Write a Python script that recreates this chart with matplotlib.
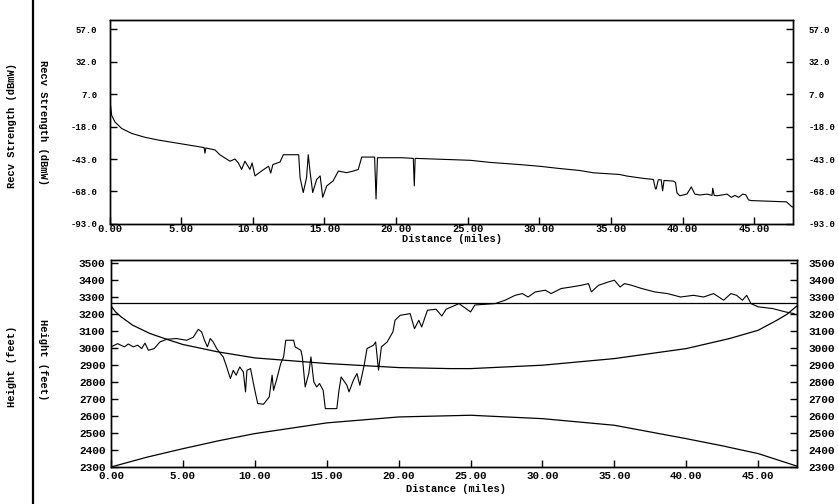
import matplotlib
matplotlib.use("Agg")
import matplotlib.pyplot as plt
from matplotlib.lines import Line2D

# ── DATA ────────────────────────────────────────────────────────────

# received signal strength along the path
rx_dist = [0.0, 0.15, 0.38, 0.85, 1.55, 2.48, 3.41, 4.34, 5.5, 6.6,
           6.66, 6.72, 7.36, 7.7, 8.05, 8.41, 8.76, 8.99, 9.22, 9.45,
           9.8, 9.95, 10.15, 10.6, 11.1, 11.25, 11.4, 11.9, 12.13, 13.2,
           13.3, 13.52, 13.75, 13.87, 13.99, 14.18, 14.46, 14.7, 14.88, 15.16,
           15.6, 15.97, 16.55, 17.0, 17.36, 17.6, 18.5, 18.6, 18.7, 20.4,
           21.2, 21.27, 21.33, 23.4, 25.2, 26.55, 28.65, 30.04, 31.4, 32.8,
           33.76, 35.6, 36.1, 37.25, 37.95, 38.1, 38.15, 38.3, 38.5, 38.6,
           38.7, 39.35, 39.5, 39.6, 39.8, 40.3, 40.6, 40.85, 41.2, 41.7,
           42.05, 42.1, 42.2, 42.4, 43.1, 43.4, 43.65, 43.9, 44.2, 44.4,
           44.6, 44.8, 46.1, 47.25, 47.6, 47.7]
rx_dbm = [5.0, -9.4, -14.5, -19.5, -23.3, -26.3, -28.4, -30.1, -32.2, -34.2,
          -38.5, -34.5, -36.0, -39.7, -42.2, -44.7, -43.0, -46.0, -51.0, -44.7,
          -51.0, -46.0, -56.0, -52.3, -48.5, -53.8, -47.3, -45.3, -39.7, -39.7,
          -57.4, -68.8, -57.4, -39.7, -52.3, -68.8, -58.7, -56.0, -72.5, -63.7,
          -59.9, -52.3, -53.5, -52.3, -51.0, -41.5, -41.5, -73.8, -42.0, -42.0,
          -42.5, -63.7, -42.5, -43.3, -44.0, -45.6, -47.3, -48.6, -50.3, -51.8,
          -53.6, -54.9, -56.1, -57.9, -58.7, -66.0, -66.0, -59.0, -59.0, -67.5,
          -59.5, -60.0, -61.0, -69.0, -71.3, -70.0, -64.5, -70.0, -70.7, -70.0,
          -71.0, -65.5, -71.0, -71.3, -70.0, -72.5, -71.0, -72.5, -70.0, -70.5,
          -74.5, -75.0, -75.5, -76.0, -79.6, -80.0]

# terrain height profile
terrain_dist = [0.0, 0.46, 0.93, 1.2, 1.55, 1.85, 2.13, 2.36, 2.6, 3.0,
                3.4, 3.87, 4.56, 5.26, 5.72, 6.07, 6.3, 6.5, 6.7, 6.9,
                7.1, 7.35, 7.6, 7.8, 8.0, 8.3, 8.5, 8.7, 8.95, 9.2,
                9.35, 9.45, 9.7, 9.95, 10.2, 10.6, 11.0, 11.2, 11.3, 11.5,
                11.8, 12.0, 12.15, 12.7, 12.8, 13.2, 13.3, 13.5, 13.75, 13.9,
                14.1, 14.3, 14.5, 14.75, 14.9, 15.7, 15.85, 16.0, 16.4, 16.55,
                16.85, 17.1, 17.3, 17.6, 17.8, 18.25, 18.4, 18.6, 18.8, 19.2,
                19.6, 19.75, 20.1, 20.8, 21.1, 21.4, 21.6, 22.0, 22.6, 23.0,
                23.3, 24.2, 25.0, 25.3, 26.7, 27.4, 28.1, 28.6, 29.0, 29.5,
                30.2, 30.6, 31.3, 32.0, 32.7, 33.2, 33.4, 33.9, 34.6, 35.0,
                35.4, 35.7, 36.2, 36.9, 37.8, 38.7, 39.6, 40.5, 41.2, 41.9,
                42.6, 43.1, 43.5, 43.9, 44.2, 44.5, 45.0, 46.0, 46.9, 47.5]
terrain_ft = [3008, 3027, 3008, 3025, 3008, 3018, 2998, 3030, 2988, 2998,
              3037, 3053, 3057, 3047, 3065, 3112, 3096, 3047, 3008, 3057,
              3037, 2998, 2969, 2949, 2900, 2821, 2870, 2841, 2890, 2860,
              2743, 2870, 2880, 2772, 2674, 2670, 2713, 2841, 2752, 2811,
              2910, 2949, 3047, 3047, 3008, 2988, 2949, 2772, 2851, 2949,
              2801, 2772, 2792, 2752, 2644, 2644, 2752, 2831, 2782, 2743,
              2811, 2851, 2782, 2900, 2998, 3018, 3037, 2870, 3008, 3037,
              3096, 3165, 3194, 3204, 3115, 3165, 3125, 3224, 3230, 3190,
              3230, 3263, 3214, 3255, 3263, 3283, 3312, 3322, 3302, 3332,
              3342, 3322, 3352, 3361, 3371, 3381, 3332, 3371, 3391, 3401,
              3361, 3381, 3371, 3352, 3332, 3322, 3302, 3312, 3302, 3322,
              3283, 3322, 3312, 3283, 3312, 3263, 3244, 3234, 3214, 3204]

# upper clearance curve
upper_dist = [0.0, 0.3, 0.7, 1.5, 2.7, 3.9, 5.0, 7.4, 10.0, 15.0,
              20.0, 23.6, 25.0, 30.0, 35.0, 40.0, 43.0, 45.0, 46.3, 47.0,
              47.45, 47.7]
upper_ft = [3250, 3215, 3185, 3136, 3087, 3052, 3022, 2979, 2943, 2910,
            2886, 2880, 2880, 2900, 2939, 2998, 3057, 3106, 3165, 3200,
            3232, 3250]

# earth bulge curve
bulge_dist = [0.0, 2.5, 5.0, 7.5, 10.0, 15.0, 20.0, 25.0, 30.0, 35.0,
              40.0, 42.5, 45.0, 47.7]
bulge_ft = [2300, 2358, 2408, 2455, 2497, 2560, 2595, 2605, 2585, 2546,
            2467, 2425, 2379, 2305]

# straight line of sight
los_ft = 3265

rx_ticks = [57.0, 32.0, 7.0, -18.0, -43.0, -68.0, -93.0]
ht_ticks = list(range(2300, 3600, 100))
dist_ticks = [0, 5, 10, 15, 20, 25, 30, 35, 40, 45]

# ── STYLE ───────────────────────────────────────────────────────────
plt.rcParams["font.family"] = ["Liberation Mono", "DejaVu Sans Mono"]
plt.rcParams["font.weight"] = "bold"
LABEL_FS = 7.5

fig = plt.figure(figsize=(8.38, 5.04), dpi=100)
ax1 = fig.add_axes([0.1307, 0.5556, 0.8156, 0.4047])
ax2 = fig.add_axes([0.1325, 0.0734, 0.8186, 0.4107])

# top panel: received strength
ax1.plot(rx_dist, rx_dbm, color="black", linewidth=0.8)
ax1.set_xlim(0, 47.7)
ax1.set_ylim(-93, 64)

# bottom panel: path profile
ax2.plot(terrain_dist, terrain_ft, color="black", linewidth=0.8)
ax2.plot(upper_dist, upper_ft, color="black", linewidth=0.9)
ax2.plot(bulge_dist, bulge_ft, color="black", linewidth=0.9)
ax2.axhline(los_ft, color="black", linewidth=0.9)
ax2.set_xlim(0, 47.7)
ax2.set_ylim(2300, 3520)


def style_axes(ax, yticks, ylabels, lpad, rpad, xpad, yfs, xfs):
    for sp in ax.spines.values():
        sp.set_linewidth(1.0)
        sp.set_color("black")
    ax.set_xticks(dist_ticks, [f"{d:.2f}" for d in dist_ticks])
    ax.set_yticks(yticks, ylabels)
    ax.tick_params(axis="x", direction="in", length=5, width=1,
                   pad=xpad, labelsize=xfs)
    ax.tick_params(axis="y", direction="in", length=5, width=1,
                   pad=lpad, labelsize=yfs, right=False)
    axr = ax.twinx()
    axr.set_ylim(ax.get_ylim())
    axr.set_yticks(yticks, ylabels)
    axr.tick_params(axis="y", direction="in", length=5, width=1,
                    pad=rpad, labelsize=yfs)
    for sp in axr.spines.values():
        sp.set_linewidth(1.0)


style_axes(ax1, rx_ticks, [f"{t:.1f}" for t in rx_ticks], 9, 11, 0, 6.5, 7.5)
style_axes(ax2, ht_ticks, [str(t) for t in ht_ticks], 4, 8, 3, 8, 7.8)

# axis titles placed like the printout
fig.text(452 / 838, 1 - 239 / 504, "Distance (miles)",
         ha="center", va="center", fontsize=LABEL_FS)
fig.text(456 / 838, 1 - 489 / 504, "Distance (miles)",
         ha="center", va="center", fontsize=LABEL_FS)

fig.text(12 / 838, 1 - 125 / 504, "Recv Strength (dBmW)", rotation=90,
         ha="center", va="center", fontsize=LABEL_FS)
fig.text(43 / 838, 1 - 123 / 504, "Recv Strength (dBmW)", rotation=270,
         ha="center", va="center", fontsize=LABEL_FS)
fig.text(12 / 838, 1 - 366 / 504, "Height (feet)", rotation=90,
         ha="center", va="center", fontsize=LABEL_FS)
fig.text(43 / 838, 1 - 360 / 504, "Height (feet)", rotation=270,
         ha="center", va="center", fontsize=LABEL_FS)

# page divider line
fig.add_artist(Line2D([33 / 838, 33 / 838], [0, 1],
                      transform=fig.transFigure, color="black", linewidth=1.6))

fig.savefig("out.png", dpi=100)
